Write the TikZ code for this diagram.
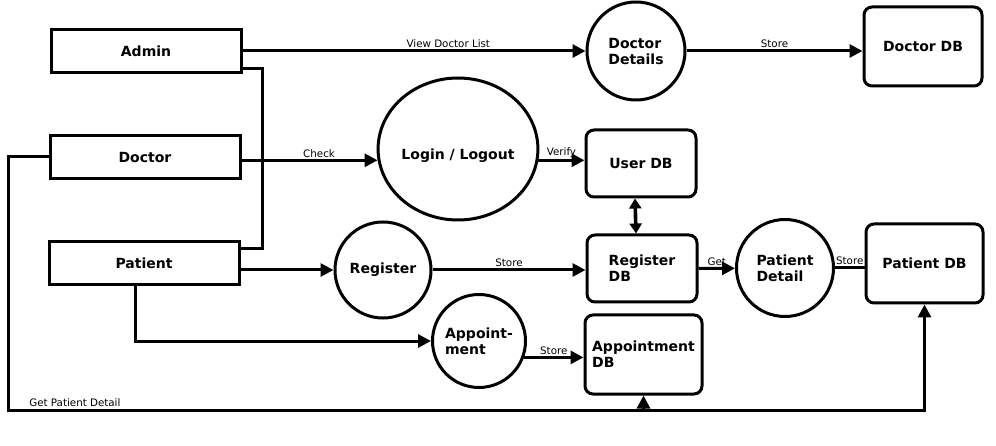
\documentclass[tikz,border=0pt]{standalone}
\usepackage{fontspec}
\setmainfont{DejaVu Sans}
\usetikzlibrary{arrows.meta,positioning,shapes.geometric,calc}

\begin{document}
\begin{tikzpicture}[
  x=1pt, y=-1pt,
  >={Triangle[length=13pt,width=13pt]},
  line width=3pt,
  every node/.style={font=\fontsize{14}{16}\selectfont\bfseries},
  entity/.style={draw, rectangle, minimum width=190pt, minimum height=43pt},
  process/.style={draw, circle, inner sep=0pt, align=left},
  store/.style={draw, rectangle, rounded corners=8pt, minimum width=110pt, minimum height=67pt, align=left},
  flow/.style={->},
  lbl/.style={font=\fontsize{10.3}{12}\selectfont, inner sep=1.5pt}
]
\useasboundingbox (0,0) rectangle (996,446);

\node[entity] (Admin) at (146,51) {Admin};
\node[entity] (Doctor) at (145,157) {Doctor};
\node[entity] (Patient) at (144,263) {Patient};

\node[process, minimum size=98pt] (DocDetails) at (636,51) {Doctor\\Details};
\node[process, ellipse, minimum width=154pt, minimum height=142pt, text height=24pt] (Login) at (458,149) {Login / Logout};
\node[process, minimum size=96pt] (Register) at (383,270) {Register};
\node[process, minimum size=93pt] (Appoint) at (479,341) {Appoint-\\ment};
\node[process, minimum size=97pt] (PatDetail) at (785,268) {Patient\\Detail};

\node[store, minimum width=118pt, minimum height=79pt] (DoctorDB) at (923,46.5) {Doctor DB};
\node[store] (UserDB) at (641,163.5) {User DB};
\node[store] (RegisterDB) at (642,268.5) {Register\\DB};
\node[store, minimum width=117pt, minimum height=79pt] (PatientDB) at (924.5,263.5) {Patient DB};
\node[store, minimum width=117pt, minimum height=79pt] (AppointDB) at (643.5,354.5) {Appointment\\DB};

\draw[flow] (Admin.east) -- node[lbl, above, pos=0.6]{View Doctor List} (DocDetails);
\draw[flow] (DocDetails.east) -- node[lbl, above]{Store} (DocDetails.east -| DoctorDB.west);
\draw ([yshift=5pt]Admin.south east) -- ++(20,0) |- ([yshift=-9pt]Patient.north east);
\draw[flow] (Doctor.east |- Login.188) -- node[lbl, above, pos=0.57]{Check} (Login.188);
\draw[flow] (Login.-8) -- node[lbl, above]{Verify} (Login.-8 -| UserDB.west);
\draw[{Triangle[length=10pt,width=12pt]}-{Triangle[length=10pt,width=12pt]}, line width=3.6pt] ([xshift=-6pt]UserDB.south) -- ([xshift=-6pt]RegisterDB.north);
\draw[flow] (Patient.east |- Register) -- (Register);
\draw[flow] (Register) -- node[lbl, above]{Store} (Register -| RegisterDB.west);
\draw[flow] ([xshift=-9pt]Patient.south) |- (Appoint);
\draw[flow] (Appoint.-20) -- node[lbl, above]{Store} (Appoint.-20 -| AppointDB.west);
\draw[flow] (RegisterDB.east) -- node[lbl, above]{Get} (PatDetail);
\draw (PatDetail.east) -- node[lbl, above]{Store} (PatDetail.east -| PatientDB.west);

% patient detail lookup along the bottom
\coordinate (Bus) at (8,410);
\draw[flow] (Doctor.west) -| (Bus) -- node[lbl, above, pos=0.073]{Get Patient Detail} (Bus -| PatientDB.south) -- (PatientDB.south);
\draw[flow] (Bus -| AppointDB.south) -- (AppointDB.south);

\end{tikzpicture}
\end{document}
